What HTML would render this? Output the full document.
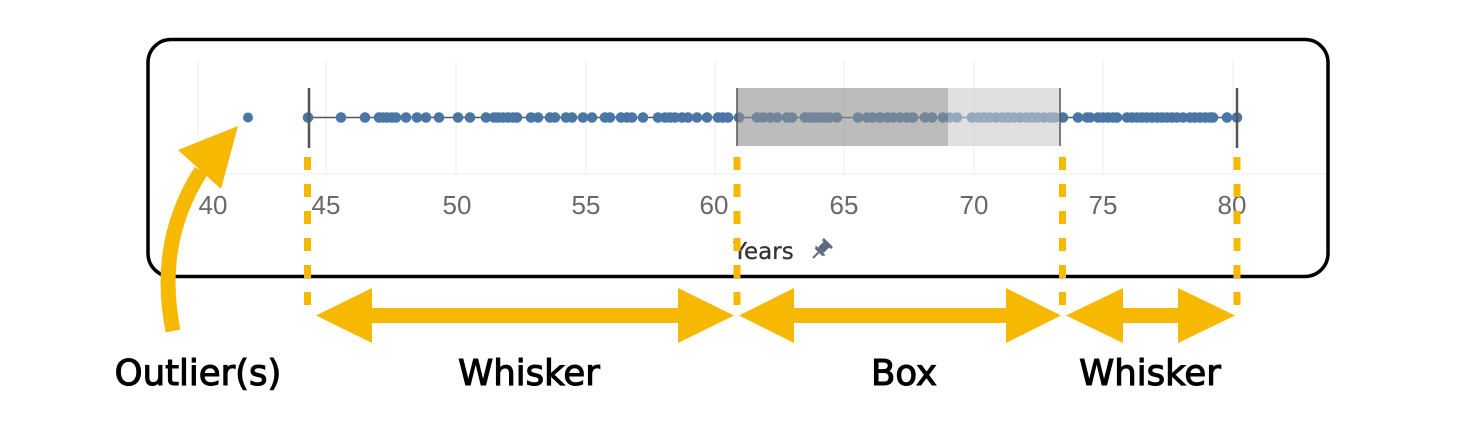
<!DOCTYPE html>
<html>
<head>
<meta charset="utf-8">
<style>
html,body{margin:0;padding:0;background:#fff;}
svg{display:block;}
</style>
</head>
<body>
<svg width="1474" height="428" viewBox="0 0 1474 428" xmlns="http://www.w3.org/2000/svg">
<rect x="0" y="0" width="1474" height="428" fill="#fff"/>
<!-- gridlines -->
<g stroke="#ececec" stroke-width="1">
<line x1="198" y1="60" x2="198" y2="174"/>
<line x1="326" y1="60" x2="326" y2="174"/>
<line x1="456" y1="60" x2="456" y2="174"/>
<line x1="586" y1="60" x2="586" y2="174"/>
<line x1="715" y1="60" x2="715" y2="174"/>
<line x1="844" y1="60" x2="844" y2="174"/>
<line x1="974" y1="60" x2="974" y2="174"/>
<line x1="1103" y1="60" x2="1103" y2="174"/>
<line x1="1233" y1="60" x2="1233" y2="174"/>
<line x1="200" y1="174" x2="1326" y2="174"/>
</g>
<!-- whisker line -->
<line x1="309" y1="117.5" x2="1237" y2="117.5" stroke="#555" stroke-width="1.6"/>
<!-- dots -->
<g fill="#4a76a5">
<circle cx="248" cy="117.5" r="5"/>
<circle cx="308" cy="117.5" r="5.3"/><circle cx="341" cy="117.5" r="5.3"/><circle cx="365" cy="117.5" r="5.3"/>
<circle cx="379" cy="117.5" r="5.3"/><circle cx="383" cy="117.5" r="5.3"/><circle cx="387" cy="117.5" r="5.3"/><circle cx="392" cy="117.5" r="5.3"/><circle cx="396" cy="117.5" r="5.3"/>
<circle cx="406" cy="117.5" r="5.3"/><circle cx="417" cy="117.5" r="5.3"/><circle cx="426" cy="117.5" r="5.3"/><circle cx="439" cy="117.5" r="5.3"/>
<circle cx="458" cy="117.5" r="5.3"/><circle cx="470" cy="117.5" r="5.3"/><circle cx="486" cy="117.5" r="5.3"/>
<circle cx="494" cy="117.5" r="5.3"/><circle cx="498" cy="117.5" r="5.3"/><circle cx="503" cy="117.5" r="5.3"/><circle cx="508" cy="117.5" r="5.3"/><circle cx="513" cy="117.5" r="5.3"/><circle cx="517" cy="117.5" r="5.3"/>
<circle cx="531" cy="117.5" r="5.3"/><circle cx="538" cy="117.5" r="5.3"/><circle cx="550" cy="117.5" r="5.3"/><circle cx="555" cy="117.5" r="5.3"/>
<circle cx="566" cy="117.5" r="5.3"/><circle cx="572" cy="117.5" r="5.3"/><circle cx="583" cy="117.5" r="5.3"/><circle cx="592" cy="117.5" r="5.3"/>
<circle cx="605" cy="117.5" r="5.3"/><circle cx="610" cy="117.5" r="5.3"/><circle cx="621" cy="117.5" r="5.3"/><circle cx="627" cy="117.5" r="5.3"/><circle cx="632" cy="117.5" r="5.3"/>
<circle cx="643" cy="117.5" r="5.3"/><circle cx="658" cy="117.5" r="5.3"/><circle cx="665" cy="117.5" r="5.3"/><circle cx="670" cy="117.5" r="5.3"/><circle cx="675" cy="117.5" r="5.3"/>
<circle cx="682" cy="117.5" r="5.3"/><circle cx="688" cy="117.5" r="5.3"/><circle cx="697" cy="117.5" r="5.3"/><circle cx="707" cy="117.5" r="5.3"/>
<circle cx="718" cy="117.5" r="5.3"/><circle cx="723" cy="117.5" r="5.3"/><circle cx="728" cy="117.5" r="5.3"/><circle cx="739" cy="117.5" r="5.3"/>
<circle cx="757" cy="117.5" r="5.3"/><circle cx="763" cy="117.5" r="5.3"/><circle cx="770" cy="117.5" r="5.3"/><circle cx="777" cy="117.5" r="5.3"/>
<circle cx="787" cy="117.5" r="5.3"/><circle cx="792" cy="117.5" r="5.3"/>
<circle cx="805" cy="117.5" r="5.3"/><circle cx="810" cy="117.5" r="5.3"/><circle cx="815" cy="117.5" r="5.3"/><circle cx="820" cy="117.5" r="5.3"/><circle cx="825" cy="117.5" r="5.3"/><circle cx="830" cy="117.5" r="5.3"/><circle cx="837" cy="117.5" r="5.3"/>
<circle cx="858" cy="117.5" r="5.3"/>
<circle cx="867" cy="117.5" r="5.3"/><circle cx="873" cy="117.5" r="5.3"/><circle cx="880" cy="117.5" r="5.3"/><circle cx="887" cy="117.5" r="5.3"/><circle cx="893" cy="117.5" r="5.3"/><circle cx="900" cy="117.5" r="5.3"/><circle cx="907" cy="117.5" r="5.3"/><circle cx="913" cy="117.5" r="5.3"/>
<circle cx="925" cy="117.5" r="5.3"/><circle cx="932" cy="117.5" r="5.3"/>
<circle cx="943" cy="117.5" r="5.3"/><circle cx="950" cy="117.5" r="5.3"/><circle cx="957" cy="117.5" r="5.3"/>
<circle cx="972" cy="117.5" r="5.3"/><circle cx="978" cy="117.5" r="5.3"/><circle cx="984" cy="117.5" r="5.3"/><circle cx="990" cy="117.5" r="5.3"/><circle cx="996" cy="117.5" r="5.3"/><circle cx="1002" cy="117.5" r="5.3"/><circle cx="1008" cy="117.5" r="5.3"/><circle cx="1014" cy="117.5" r="5.3"/><circle cx="1020" cy="117.5" r="5.3"/><circle cx="1026" cy="117.5" r="5.3"/><circle cx="1032" cy="117.5" r="5.3"/><circle cx="1038" cy="117.5" r="5.3"/><circle cx="1044" cy="117.5" r="5.3"/><circle cx="1050" cy="117.5" r="5.3"/><circle cx="1055" cy="117.5" r="5.3"/>
<circle cx="1063" cy="117.5" r="5.3"/>
<circle cx="1078" cy="117.5" r="5.3"/><circle cx="1087" cy="117.5" r="5.3"/><circle cx="1090" cy="117.5" r="5.3"/>
<circle cx="1098" cy="117.5" r="5.3"/><circle cx="1103" cy="117.5" r="5.3"/><circle cx="1108" cy="117.5" r="5.3"/><circle cx="1113" cy="117.5" r="5.3"/><circle cx="1117" cy="117.5" r="5.3"/>
<circle cx="1127" cy="117.5" r="5.3"/><circle cx="1132" cy="117.5" r="5.3"/><circle cx="1137" cy="117.5" r="5.3"/><circle cx="1142" cy="117.5" r="5.3"/><circle cx="1147" cy="117.5" r="5.3"/><circle cx="1152" cy="117.5" r="5.3"/><circle cx="1157" cy="117.5" r="5.3"/><circle cx="1162" cy="117.5" r="5.3"/><circle cx="1167" cy="117.5" r="5.3"/><circle cx="1172" cy="117.5" r="5.3"/><circle cx="1177" cy="117.5" r="5.3"/><circle cx="1183" cy="117.5" r="5.3"/>
<circle cx="1190" cy="117.5" r="5.3"/><circle cx="1195" cy="117.5" r="5.3"/><circle cx="1200" cy="117.5" r="5.3"/><circle cx="1205" cy="117.5" r="5.3"/><circle cx="1210" cy="117.5" r="5.3"/><circle cx="1213" cy="117.5" r="5.3"/>
<circle cx="1227" cy="117.5" r="5.3"/><circle cx="1237" cy="117.5" r="5.3"/>
</g>
<!-- box overlay -->
<rect x="737" y="88" width="211" height="58" fill="rgb(143,143,143)" fill-opacity="0.6"/>
<rect x="948" y="88" width="112" height="58" fill="rgb(203,203,203)" fill-opacity="0.6"/>
<line x1="737" y1="88" x2="737" y2="146" stroke="#555" stroke-width="1.5"/>
<line x1="1060" y1="88" x2="1060" y2="146" stroke="#555" stroke-width="1.5"/>
<!-- whisker caps -->
<line x1="309" y1="88" x2="309" y2="148" stroke="#555" stroke-width="2.5"/>
<line x1="1237" y1="88" x2="1237" y2="148" stroke="#555" stroke-width="2.5"/>
<!-- tick labels -->
<g font-family="'Liberation Sans', sans-serif" font-size="26" fill="#686868" text-anchor="middle">
<text x="213" y="214">40</text>
<text x="326" y="214">45</text>
<text x="457" y="214">50</text>
<text x="586" y="214">55</text>
<text x="714" y="214">60</text>
<text x="844" y="214">65</text>
<text x="974" y="214">70</text>
<text x="1103" y="214">75</text>
<text x="1232" y="214">80</text>
</g>
<text x="733" y="259" font-family="'DejaVu Sans', sans-serif" font-size="23" fill="#333" stroke="#333" stroke-width="0.3">Years</text>
<!-- pin icon -->
<g transform="translate(820,251) rotate(45)" fill="#5d6b7b">
<rect x="-4" y="-10" width="8" height="9" rx="1"/>
<rect x="-6.5" y="-12" width="13" height="3" rx="1"/>
<polygon points="-7,-1 7,-1 5,2 -5,2"/>
<rect x="-1" y="2" width="2" height="8"/>
</g>
<!-- rounded frame -->
<rect x="148" y="39.5" width="1180" height="237" rx="23" ry="23" fill="none" stroke="#000" stroke-width="3.5"/>
<!-- yellow dashed lines -->
<g stroke="#F6B800" stroke-width="7" stroke-dasharray="13 14">
<line x1="307.5" y1="157" x2="307.5" y2="306"/>
<line x1="737" y1="157" x2="737" y2="306"/>
<line x1="1062.5" y1="157" x2="1062.5" y2="306"/>
<line x1="1237" y1="157" x2="1237" y2="306"/>
</g>
<!-- double arrows -->
<g fill="#F6B800">
<polygon points="316,315.5 372,288 372,308 678,308 678,288 734,315.5 678,343 678,323 372,323 372,343"/>
<polygon points="739,315.5 794,288 794,308 1006,308 1006,288 1061,315.5 1006,343 1006,323 794,323 794,343"/>
<polygon points="1066,315.5 1123,288 1123,308 1178,308 1178,288 1235,315.5 1178,343 1178,323 1123,323 1123,343"/>
</g>
<!-- outlier curved arrow -->
<path d="M 173 331 C 165 290, 162 232, 201 171" fill="none" stroke="#F6B800" stroke-width="15"/>
<polygon points="238,126 178,150 221,189" fill="#F6B800"/>
<!-- labels -->
<g font-family="'DejaVu Sans', sans-serif" font-size="35.5" fill="#000" text-anchor="middle" stroke="#000" stroke-width="1.1">
<text x="198" y="385">Outlier(s)</text>
<text x="529" y="385">Whisker</text>
<text x="904" y="385">Box</text>
<text x="1150" y="385">Whisker</text>
</g>
</svg>
</body>
</html>
